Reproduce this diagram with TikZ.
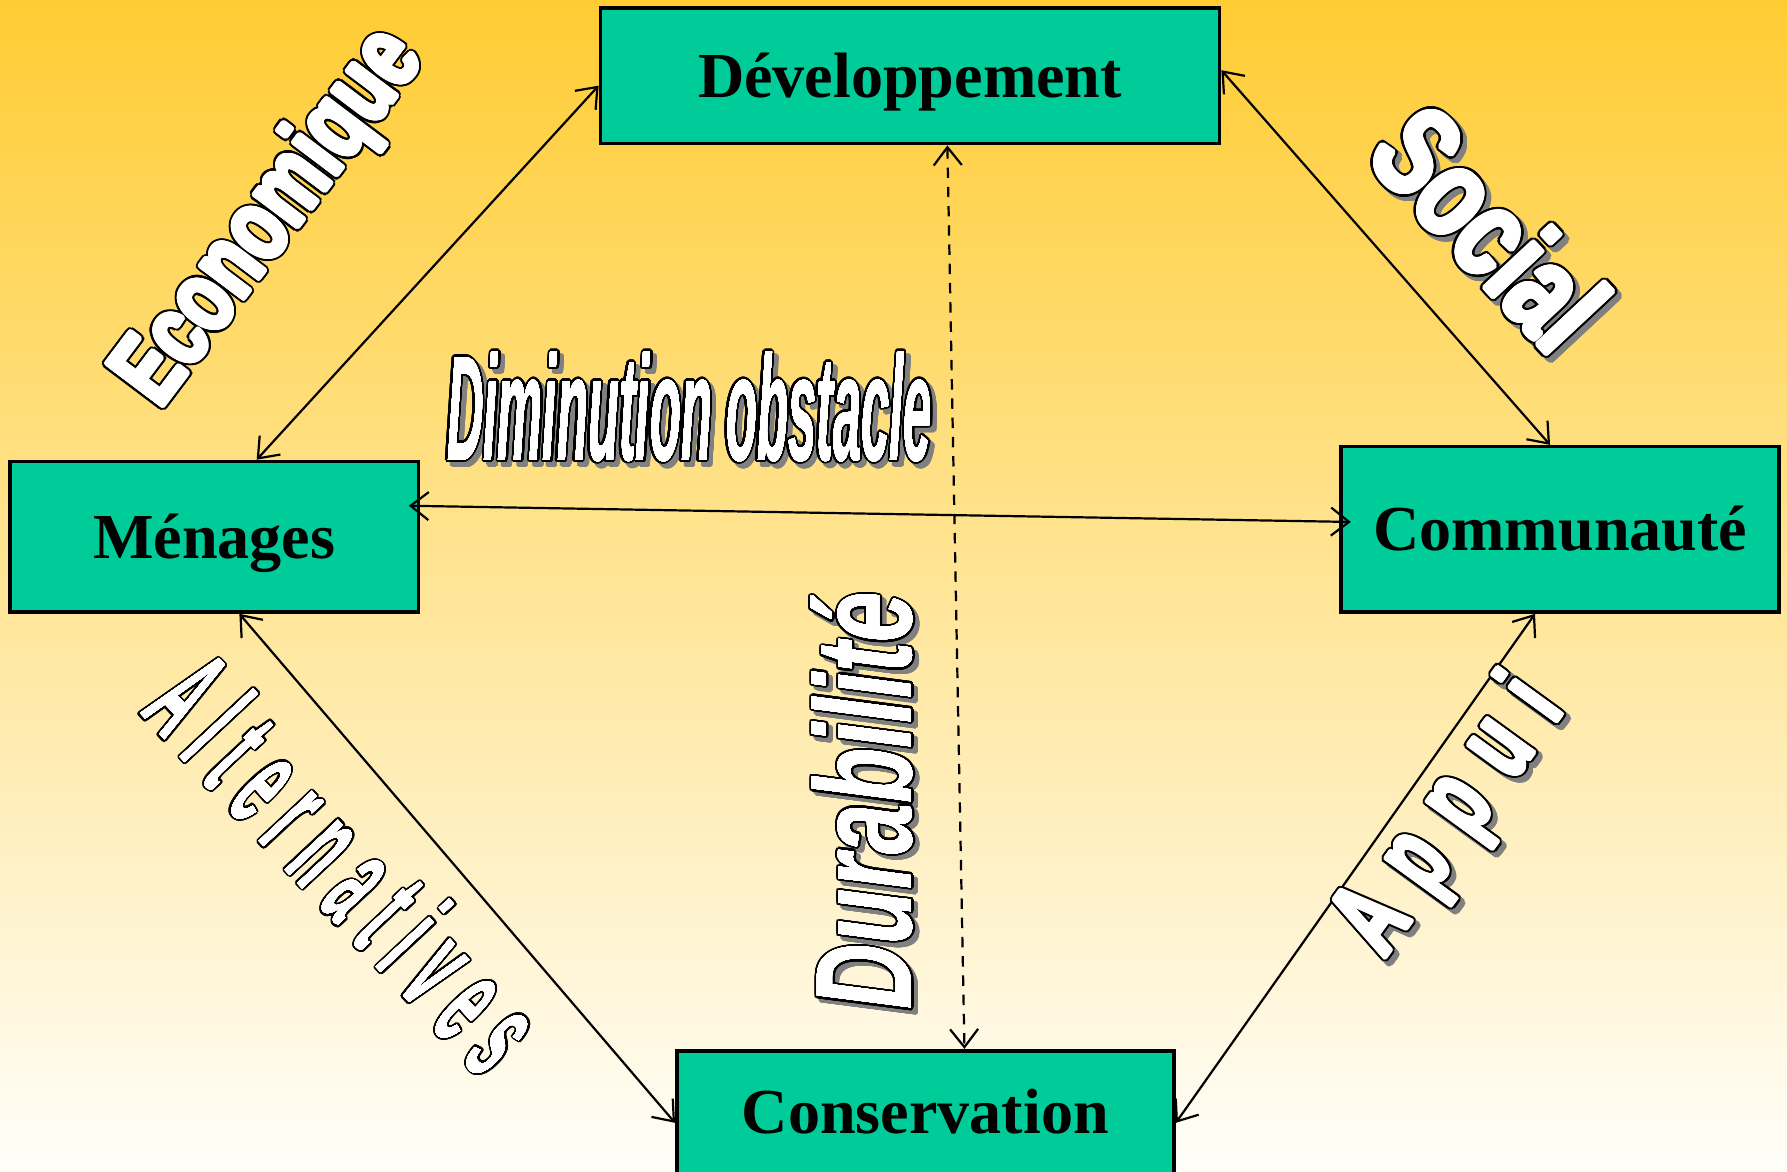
\documentclass[tikz,border=0pt]{standalone}
\usepackage{fontspec}
\setmainfont{Liberation Serif}
\newfontfamily\wafont{Liberation Sans}
\usepackage{graphicx}
\usetikzlibrary{arrows.meta,calc}
\definecolor{bgtop}{RGB}{255,204,51}
\definecolor{bgmid}{RGB}{253,226,160}
\definecolor{bgbot}{RGB}{255,254,250}
\definecolor{boxfill}{RGB}{0,204,153}
\definecolor{shadowgray}{RGB}{128,128,128}
\newcommand\wacur{}
% ring of copies of \wacur: #1 colour, #2 radius
\newcommand\wring[2]{%
  \foreach \wang in {0,15,...,345}{%
    \pgfmathsetlengthmacro\wdx{#2*cos(\wang)}%
    \pgfmathsetlengthmacro\wdy{#2*sin(\wang)}%
    \rlap{\kern\wdx\raise\wdy\hbox{\color{#1}\wacur}}}}
% white text with black outline; #4 inner bolding, #5 outer radius
\newcommand\wheavy[5]{\def\wacur{\resizebox{#1}{#2}{#3}}%
  \wring{black}{#5}\wring{white}{#4}\hbox{\color{white}\wacur}}
% gray shadow silhouette; #4 radius
\newcommand\wheavysh[4]{\def\wacur{\resizebox{#1}{#2}{#3}}%
  \wring{shadowgray}{#4}\hbox{\color{shadowgray}\wacur}}
\newcommand\wsp{\kern.33em}
\newcommand\wspp{\kern.42em}
\tikzset{
  box/.style={draw=black, line width=0.9pt, fill=boxfill, inner sep=0pt,
    font=\fontsize{16}{19}\selectfont\bfseries, text=black,
    text height=10.6pt, text depth=0pt},
  link/.style={line width=0.55pt,
    {Straight Barb[length=4.5pt,width=7pt]}-{Straight Barb[length=4.5pt,width=7pt]}},
  walabel/.style={inner sep=0pt, font=\wafont\bfseries},
}
\begin{document}
\begin{tikzpicture}[x=0.01cm,y=-0.01cm]
\clip (0,0) rectangle (1568,1028);
\shade[top color=bgtop, middle color=bgmid, bottom color=bgbot] (0,0) rectangle (1568,1028);

% boxes
\node[box, minimum width=5.43cm, minimum height=1.19cm] (dev) at (798.5,66.5) {Développement};
\node[box, minimum width=3.58cm, minimum height=1.32cm] (men) at (188,471) {Ménages};
\node[box, minimum width=3.84cm, minimum height=1.45cm] (com) at (1369,464.5) {Communauté};
\node[box, minimum width=4.36cm, minimum height=1.08cm] (con) at (812,976) {Conservation};

% connectors
\draw[link] ($(men.north west)!0.603!(men.north east)$) -- ($(dev.north west)!0.571!(dev.south west)$);
\draw[link] ($(dev.north east)!0.46!(dev.south east)$) -- ($(com.north west)!0.477!(com.north east)$);
\draw[link, shorten <=-0.1cm, shorten >=-0.1cm] ($(men.north east)!0.30!(men.south east)$) -- ($(com.north west)!0.455!(com.south west)$);
\draw[link] ($(men.south west)!0.561!(men.south east)$) -- ($(con.north west)!0.583!(con.south west)$);
\draw[link] ($(com.south west)!0.443!(com.south east)$) -- ($(con.north east)!0.583!(con.south east)$);
\draw[link, dash pattern=on 2.6pt off 2.2pt] ($(dev.south west)!0.56!(dev.south east)$) -- ($(con.north west)!0.578!(con.north east)$);

% word-art labels
\node[walabel, rotate=53] (eco) at (238,192) {\wheavy{38.5mm}{6.5mm}{Economique}{0.6pt}{1.2pt}};

\node[walabel, rotate=-47] (socsh) at (1312,204) {\wheavysh{24mm}{8mm}{Social}{1.2pt}};
\node[walabel, rotate=-47] (soc) at (1308,200) {\wheavy{24mm}{8mm}{Social}{0.6pt}{1.2pt}};

\node[walabel] (dimsh) at (609,361) {\wheavysh{42.5mm}{9.5mm}{\itshape Diminution obstacle}{0.6pt}};
\node[walabel] (dim) at (605,357) {\wheavy{42.5mm}{9.5mm}{\itshape Diminution obstacle}{0pt}{0.6pt}};

\node[walabel, rotate=90] (dursh) at (761,707) {\wheavysh{36.6mm}{8.7mm}{\itshape Durabilit\smash{é}}{0.6pt}};
\node[walabel, rotate=90] (dur) at (757,703) {\wheavy{36.6mm}{8.7mm}{\itshape Durabilit\smash{é}}{0pt}{0.6pt}};

\node[walabel, rotate=-47] (alt) at (304,757) {\wheavy{44mm}{8.8mm}{A\wsp l\wsp t\wsp e\wsp r\wsp n\wsp a\wsp t\wsp i\wsp v\wsp e\wsp s}{0pt}{0.55pt}};

\node[walabel, rotate=54] (appsh) at (1278,722) {\wheavysh{27mm}{7mm}{A\wspp p\wspp p\wspp u\wspp i}{1.05pt}};
\node[walabel, rotate=54] (app) at (1274,718) {\wheavy{27mm}{7mm}{A\wspp p\wspp p\wspp u\wspp i}{0.45pt}{1.05pt}};
\end{tikzpicture}
\end{document}
